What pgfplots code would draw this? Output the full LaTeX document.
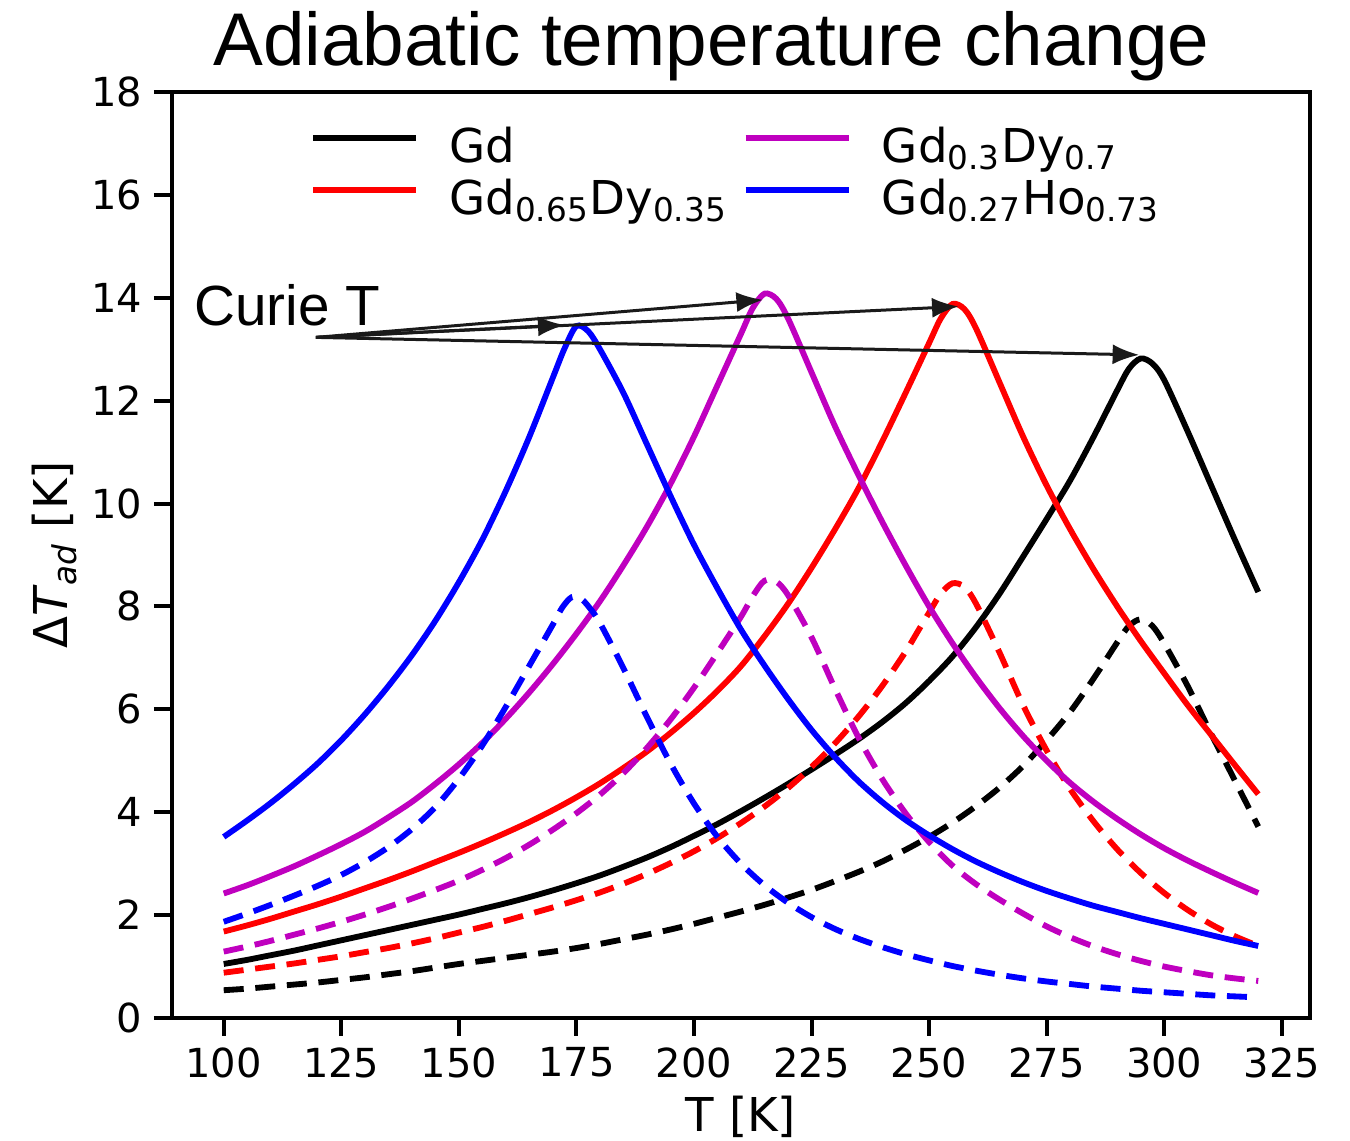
\documentclass[border=0pt]{standalone}
\usepackage{fontspec}
\setmainfont{DejaVu Sans}
\newfontfamily\arial{Liberation Sans}
\usepackage{pgfplots}
\pgfplotsset{compat=1.18}
\usetikzlibrary{arrows.meta}
\definecolor{mplpurple}{rgb}{0.75,0,0.75}
\definecolor{mplred}{rgb}{1,0,0}
\definecolor{mplblue}{rgb}{0,0,1}
\definecolor{arrowgray}{HTML}{1A1A1A}
\begin{document}
\begin{tikzpicture}
\begin{axis}[
  scale only axis, width=341.4pt, height=277.8pt,
  xmin=89, xmax=331, ymin=0, ymax=18,
  xtick={100,125,...,325}, ytick={0,2,...,18},
  tick align=outside, tick pos=left, major tick length=5.4pt,
  axis line style={line width=1.2pt},
  tick style={line width=1.2pt, black},
  ticklabel style={font=\fontsize{12}{14}\selectfont},
  /pgf/number format/assume math mode=true,
  legend columns=2,
  legend cell align=left,
  legend style={at={(axis description cs:0.1213,0.962)}, anchor=north west,
    draw=none, fill=none, inner sep=0pt, outer sep=0pt,
    font=\fontsize{14}{16}\selectfont, column sep=0pt,
    nodes={inner sep=0pt, text height=10.5pt, text depth=5.1pt},
    /tikz/every odd column/.append style={column sep=9pt},
    /tikz/every even column/.append style={column sep=4.5pt}},
  legend image code/.code={\draw[#1, line width=1.8pt] (0pt,4.5pt) -- (31pt,4.5pt);},
  every axis plot/.append style={line width=1.75pt, smooth},
  sdash/.style={dash pattern=on 6pt off 3.5pt},
]
\addlegendimage{black}\addlegendentry{Gd}
\addlegendimage{mplpurple}\addlegendentry{Gd\textsubscript{0.3}Dy\textsubscript{0.7}}
\addlegendimage{mplred}\addlegendentry{Gd\textsubscript{0.65}Dy\textsubscript{0.35}}
\addlegendimage{mplblue}\addlegendentry{Gd\textsubscript{0.27}Ho\textsubscript{0.73}}

% Gd solid
\addplot[black, forget plot] coordinates {
(100,1.05)(105,1.13)(110,1.22)(115,1.31)(120,1.41)(125,1.51)(130,1.61)(135,1.71)(140,1.81)(145,1.91)(150,2.01)(155,2.12)(160,2.23)(165,2.35)(170,2.48)(175,2.62)(180,2.77)(185,2.94)(190,3.12)(195,3.32)(200,3.54)(205,3.77)(210,4.02)(215,4.28)(220,4.55)(225,4.83)(230,5.12)(235,5.42)(240,5.75)(245,6.12)(250,6.55)(255,7.03)(260,7.6)(265,8.25)(270,8.97)(275,9.7)(280,10.45)(285,11.3)(290,12.2)(292.5,12.62)(295,12.82)(297.5,12.72)(300,12.4)(305,11.4)(310,10.35)(315,9.3)(320,8.28)};
% Gd dashed
\addplot[black, sdash, forget plot] coordinates {
(100,0.54)(105,0.57)(110,0.61)(115,0.65)(120,0.69)(125,0.74)(130,0.79)(135,0.85)(140,0.91)(145,0.98)(150,1.05)(155,1.11)(160,1.17)(165,1.23)(170,1.29)(175,1.36)(180,1.44)(185,1.53)(190,1.62)(195,1.72)(200,1.83)(205,1.95)(210,2.07)(215,2.2)(220,2.34)(225,2.49)(230,2.66)(235,2.84)(240,3.04)(245,3.27)(250,3.52)(255,3.8)(260,4.12)(265,4.48)(270,4.9)(275,5.4)(280,5.95)(285,6.6)(290,7.3)(292.5,7.62)(295,7.75)(297.5,7.62)(300,7.28)(305,6.45)(310,5.52)(315,4.62)(320,3.72)};
% Gd0.65Dy0.35 solid
\addplot[mplred, forget plot] coordinates {
(100,1.68)(105,1.8)(110,1.93)(115,2.07)(120,2.21)(125,2.36)(130,2.52)(135,2.68)(140,2.85)(145,3.03)(150,3.21)(155,3.4)(160,3.6)(165,3.81)(170,4.04)(175,4.29)(180,4.56)(185,4.86)(190,5.18)(195,5.54)(200,5.93)(205,6.36)(210,6.84)(215,7.42)(220,8.05)(225,8.75)(230,9.5)(235,10.3)(240,11.2)(245,12.15)(250,13.12)(252.5,13.6)(255,13.88)(257.5,13.78)(260,13.4)(265,12.35)(270,11.3)(275,10.35)(280,9.5)(285,8.72)(290,8.0)(295,7.33)(300,6.7)(305,6.08)(310,5.5)(315,4.92)(320,4.35)};
% Gd0.65Dy0.35 dashed
\addplot[mplred, sdash, forget plot] coordinates {
(100,0.88)(105,0.94)(110,1.0)(115,1.06)(120,1.13)(125,1.2)(130,1.28)(135,1.36)(140,1.45)(145,1.55)(150,1.66)(155,1.77)(160,1.89)(165,2.02)(170,2.15)(175,2.29)(180,2.44)(185,2.61)(190,2.8)(195,3.01)(200,3.24)(205,3.5)(210,3.79)(215,4.11)(220,4.47)(225,4.88)(230,5.34)(235,5.86)(240,6.45)(245,7.12)(247.5,7.5)(250,7.88)(252.5,8.25)(255,8.45)(257.5,8.38)(260,8.05)(265,7.1)(270,6.08)(275,5.2)(280,4.45)(285,3.82)(290,3.28)(295,2.82)(300,2.43)(305,2.1)(310,1.82)(315,1.59)(320,1.4)};
% Gd0.3Dy0.7 solid
\addplot[mplpurple, forget plot] coordinates {
(100,2.42)(105,2.58)(110,2.76)(115,2.95)(120,3.16)(125,3.38)(130,3.62)(135,3.9)(140,4.2)(145,4.55)(150,4.93)(155,5.35)(160,5.82)(165,6.33)(170,6.88)(175,7.47)(180,8.1)(185,8.8)(190,9.55)(195,10.38)(200,11.3)(205,12.3)(210,13.3)(212.5,13.8)(215,14.08)(217.5,13.98)(220,13.6)(225,12.55)(230,11.5)(235,10.55)(240,9.65)(245,8.8)(250,8.0)(255,7.28)(260,6.62)(265,6.02)(270,5.48)(275,5.0)(280,4.57)(285,4.2)(290,3.87)(295,3.57)(300,3.3)(305,3.06)(310,2.84)(315,2.63)(320,2.43)};
% Gd0.3Dy0.7 dashed
\addplot[mplpurple, sdash, forget plot] coordinates {
(100,1.29)(105,1.39)(110,1.5)(115,1.62)(120,1.74)(125,1.87)(130,2.01)(135,2.16)(140,2.32)(145,2.49)(150,2.67)(155,2.88)(160,3.11)(165,3.37)(170,3.66)(175,3.98)(180,4.34)(185,4.76)(190,5.25)(195,5.8)(200,6.42)(205,7.1)(210,7.8)(212.5,8.2)(215,8.5)(217.5,8.48)(220,8.22)(225,7.4)(230,6.4)(235,5.45)(240,4.65)(245,3.98)(250,3.42)(255,2.96)(260,2.6)(265,2.3)(270,2.03)(275,1.78)(280,1.57)(285,1.39)(290,1.24)(295,1.11)(300,1.0)(305,0.91)(310,0.83)(315,0.77)(320,0.72)};
% Gd0.27Ho0.73 solid
\addplot[mplblue, forget plot] coordinates {
(100,3.52)(105,3.84)(110,4.18)(115,4.55)(120,4.95)(125,5.4)(130,5.9)(135,6.45)(140,7.05)(145,7.72)(150,8.47)(155,9.3)(160,10.25)(165,11.3)(170,12.45)(172.5,13.02)(175,13.45)(177.5,13.35)(180,13.0)(185,12.15)(190,11.15)(195,10.15)(200,9.2)(205,8.35)(210,7.55)(215,6.85)(220,6.2)(225,5.6)(230,5.07)(235,4.6)(240,4.2)(245,3.85)(250,3.55)(255,3.28)(260,3.04)(265,2.83)(270,2.64)(275,2.47)(280,2.32)(285,2.18)(290,2.06)(295,1.94)(300,1.83)(305,1.72)(310,1.61)(315,1.5)(320,1.4)};
% Gd0.27Ho0.73 dashed
\addplot[mplblue, sdash, forget plot] coordinates {
(100,1.87)(105,2.03)(110,2.2)(115,2.38)(120,2.57)(125,2.78)(130,3.03)(135,3.32)(140,3.67)(145,4.1)(150,4.65)(155,5.3)(160,6.05)(165,6.85)(170,7.65)(172,7.98)(174,8.18)(176,8.15)(178,7.95)(180,7.68)(185,6.8)(190,5.85)(195,4.95)(200,4.17)(205,3.52)(210,3.0)(215,2.58)(220,2.24)(225,1.96)(230,1.73)(235,1.54)(240,1.38)(245,1.24)(250,1.12)(255,1.01)(260,0.92)(265,0.84)(270,0.77)(275,0.71)(280,0.66)(285,0.61)(290,0.57)(295,0.53)(300,0.5)(305,0.47)(310,0.44)(315,0.42)(320,0.4)};

\node[anchor=base west, inner sep=0pt, font=\arial\fontsize{17}{20}\selectfont] at (axis cs:93.6,13.47) {Curie T};
\draw[arrowgray, line width=0.9pt, -{Latex[length=8pt,width=6pt]}] (axis cs:119.6,13.23) -- (axis cs:172.5,13.47);
\draw[arrowgray, line width=0.9pt, -{Latex[length=8pt,width=6pt]}] (axis cs:119.6,13.23) -- (axis cs:214.7,13.96);
\draw[arrowgray, line width=0.9pt, -{Latex[length=8pt,width=6pt]}] (axis cs:119.6,13.23) -- (axis cs:256.3,13.83);
\draw[arrowgray, line width=0.9pt, -{Latex[length=8pt,width=6pt]}] (axis cs:119.6,13.23) -- (axis cs:294.7,12.89);
\end{axis}
\node[anchor=base, font=\arial\fontsize{22.4}{26}\selectfont] at (161.85pt,285.6pt) {Adiabatic temperature change};
\node[anchor=base, font=\fontsize{14}{16}\selectfont] at (170.7pt,-34pt) {T [K]};
\node[anchor=base, rotate=90, font=\fontsize{14}{16}\selectfont] at (-31.2pt,138.9pt) {Δ\textit{T}\textsubscript{\textit{ad}} [K]};
\pgfresetboundingbox
\path[use as bounding box] (-51.6pt,-36.9pt) rectangle (353.4pt,305.4pt);
\end{tikzpicture}
\end{document}
